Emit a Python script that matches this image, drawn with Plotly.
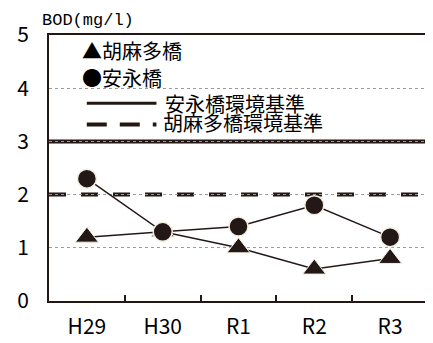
import plotly.graph_objects as go

categories = ["H29", "H30", "R1", "R2", "R3"]
yasunaga = [2.3, 1.3, 1.4, 1.8, 1.2]
gomata = [1.2, 1.3, 1.0, 0.6, 0.8]
std_yasunaga = 3
std_gomata = 2
y_ticks = [0, 1, 2, 3, 4, 5]

DARK = "#231815"
CJK = "Noto Sans CJK JP"
NARROW = "Liberation Sans Narrow, Noto Sans CJK JP"
MONO = "Liberation Mono, DejaVu Sans Mono"

fig = go.Figure()

fig.add_trace(go.Scatter(
    x=categories, y=gomata, mode="lines+markers",
    line=dict(color=DARK, width=1.5),
    marker=dict(symbol="triangle-up", size=20, color=DARK,
                line=dict(color="#f3eedf", width=1)),
    showlegend=False))
fig.add_trace(go.Scatter(
    x=categories, y=yasunaga, mode="lines+markers",
    line=dict(color=DARK, width=1.5),
    marker=dict(symbol="circle", size=19, color=DARK,
                line=dict(color="#f3eedf", width=1.5)),
    showlegend=False))

# standard lines
fig.add_shape(type="line", xref="paper", x0=0, x1=1, yref="y",
              y0=std_yasunaga, y1=std_yasunaga,
              line=dict(color=DARK, width=4), layer="below")
fig.add_shape(type="line", xref="paper", x0=0, x1=1, yref="y",
              y0=std_gomata, y1=std_gomata,
              line=dict(color=DARK, width=4, dash="17px,15px"), layer="below")

# custom legend
lfont = dict(size=20, color="black", family=CJK)
fig.add_annotation(xref="paper", yref="paper", x=0.081, y=0.940,
                   text="▲胡麻多橋", showarrow=False, xanchor="left",
                   yanchor="middle", font=lfont)
fig.add_annotation(xref="paper", yref="paper", x=0.081, y=0.840,
                   text="●安永橋", showarrow=False, xanchor="left",
                   yanchor="middle", font=lfont)
fig.add_shape(type="line", xref="paper", yref="paper",
              x0=0.0997, x1=0.2835, y0=0.743, y1=0.743,
              line=dict(color=DARK, width=3))
fig.add_annotation(xref="paper", yref="paper", x=0.300, y=0.741,
                   text="安永橋環境基準", showarrow=False, xanchor="left",
                   yanchor="middle", font=lfont)
fig.add_shape(type="line", xref="paper", yref="paper",
              x0=0.0997, x1=0.2835, y0=0.664, y1=0.664,
              line=dict(color=DARK, width=4, dash="20px,13px"))
fig.add_annotation(xref="paper", yref="paper", x=0.296, y=0.670,
                   text="胡麻多橋環境基準", showarrow=False, xanchor="left",
                   yanchor="middle", font=lfont)

# axis title
fig.add_annotation(xref="paper", yref="paper", x=-0.024, y=1.0,
                   yanchor="bottom", xanchor="left", yshift=3,
                   text="BOD(mg/l)", showarrow=False,
                   font=dict(size=17, color="black", family=MONO))

# the page body has an 8px margin: figure is shrunk by 8px and margins shifted
fig.update_layout(
    width=425, height=335,
    margin=dict(l=41, r=3, t=27, b=40, pad=0),
    paper_bgcolor="white", plot_bgcolor="white",
    font=dict(family=NARROW, color="black"),
    xaxis=dict(
        type="category", range=[-0.5, 4.5],
        showline=True, linecolor=DARK, linewidth=2, mirror=True,
        ticks="inside", tickson="boundaries", ticklen=6, tickwidth=2,
        tickcolor=DARK, showgrid=False,
        tickfont=dict(size=21, family=NARROW, color="black"),
        ticklabelstandoff=6),
    yaxis=dict(
        range=[0, 5], tickvals=y_ticks,
        showline=True, linecolor=DARK, linewidth=2, mirror=True,
        ticks="", showgrid=True, gridcolor="#9a9a9a", gridwidth=1,
        griddash="dot", zeroline=False,
        tickfont=dict(size=21, family=NARROW, color="black"),
        ticklabelstandoff=14),
)

fig.write_html("out.html")
